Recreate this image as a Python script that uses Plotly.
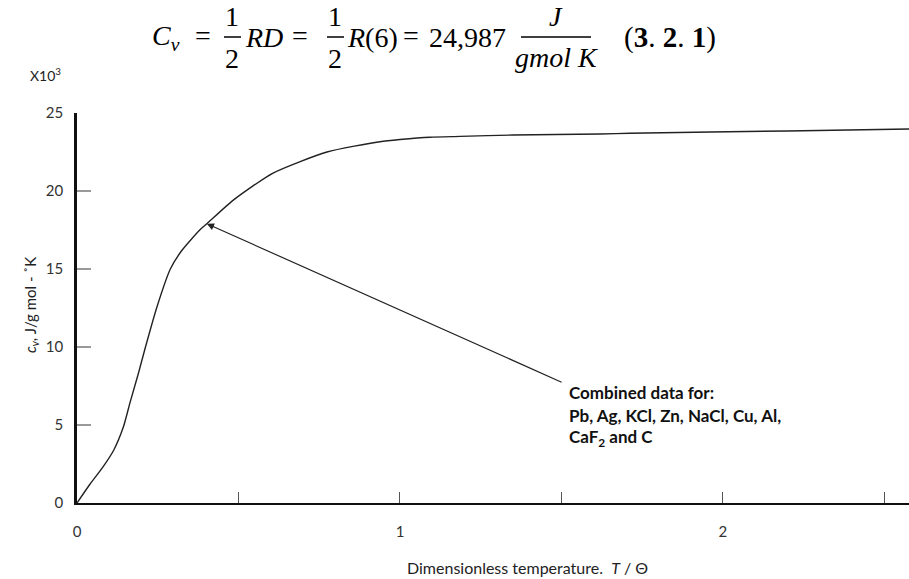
import plotly.graph_objects as go

# ---- data ----
t_ratio = [0, 0.04, 0.08, 0.114, 0.144, 0.165, 0.19, 0.212, 0.248, 0.289, 0.325,
           0.38, 0.402, 0.483, 0.607, 0.774, 0.938, 1.0, 1.093, 1.186, 1.35,
           1.619, 1.712, 2.2, 2.576]
cv_kilo = [0, 1.2, 2.3, 3.4, 4.9, 6.5, 8.3, 10.0, 12.6, 15.0, 16.2,
           17.5, 17.9, 19.4, 21.15, 22.5, 23.16, 23.3, 23.45, 23.5, 23.59,
           23.65, 23.7, 23.85, 23.97]
x_tickvals = [0, 1, 2]
x_ticktext = ["0", "1", "2"]
x_minor_step = 0.5
y_tickvals = [0, 5, 10, 15, 20, 25]
arrow_tip = (0.402, 17.9)
arrow_tail = (1.505, 7.7)
note_lines = ["Combined data for:", "Pb, Ag, KCl, Zn, NaCl, Cu, Al,", "CaF<sub>2</sub> and C"]

W, H = 909, 579
L, R, T, B = 77, 0, 113, 76
PW, PH = W - L - R, H - T - B


def px(x):
    return (x - L) / PW


def py(y):
    return (H - B - y) / PH


FONT = "Lato, Carlito, 'Open Sans', sans-serif"
SERIF = "'Liberation Serif', 'DejaVu Serif', serif"

fig = go.Figure()
fig.add_trace(go.Scatter(x=t_ratio, y=cv_kilo, mode="lines",
                         line=dict(color="#222", width=1.4, shape="spline", smoothing=0.6),
                         hoverinfo="skip", showlegend=False))

fig.update_layout(
    width=W, height=H, autosize=False,
    margin=dict(l=L, r=R, t=T, b=B, pad=0),
    paper_bgcolor="white", plot_bgcolor="white",
    showlegend=False,
    font=dict(family=FONT, size=14, color="#333"),
)
fig.update_xaxes(range=[0, 2.576], showline=True, linecolor="#111", linewidth=2.2, showgrid=False, zeroline=False,
                 ticks="inside", ticklen=11, tickwidth=1.3, tickcolor="#555",
                 tickvals=x_tickvals, ticktext=x_ticktext, ticklabelstandoff=14,
                 minor=dict(ticks="inside", ticklen=11, tickwidth=1.3, tickcolor="#555", dtick=x_minor_step,
                            tick0=0, showgrid=False),
                 tickfont=dict(size=15, color="#333", family=FONT))
fig.update_yaxes(range=[0, 25], showline=True, linecolor="#111", linewidth=2.5, showgrid=False, zeroline=False,
                 ticks="inside", ticklen=14, tickwidth=2, tickcolor="#999",
                 tickvals=y_tickvals, ticklabelstandoff=8,
                 tickfont=dict(size=15, color="#333", family=FONT))

ann = []
# axis titles
ann.append(dict(xref="paper", yref="paper", x=px(527), y=py(567), text="Dimensionless temperature.  <i>T</i> / Θ",
                showarrow=False, font=dict(size=16, color="#222", family=FONT), xanchor="center", yanchor="middle"))
ann.append(dict(xref="paper", yref="paper", x=px(31), y=py(305), text="<i>c<sub>v</sub></i>, J/g mol - ˚K",
                showarrow=False, textangle=-90, font=dict(size=15, color="#222", family=FONT),
                xanchor="center", yanchor="middle"))
ann.append(dict(xref="paper", yref="paper", x=px(45), y=py(75), text="X10<sup>3</sup>",
                showarrow=False, font=dict(size=14, color="#222", family=FONT), xanchor="center", yanchor="middle"))

# note with arrow
ann.append(dict(x=arrow_tip[0], y=arrow_tip[1], xref="x", yref="y", ax=arrow_tail[0], ay=arrow_tail[1],
                axref="x", ayref="y", text="", showarrow=True, arrowhead=2, arrowsize=1.2, arrowwidth=1.2,
                arrowcolor="#222"))
for i, line in enumerate(note_lines):
    ann.append(dict(xref="paper", yref="paper", x=px(567), y=py(392 + 23 * i), text="<b>" + line + "</b>",
                    showarrow=False, font=dict(size=17, color="#111", family=FONT), xanchor="left", yanchor="middle"))

# equation heading
EQ = 28


def t(x, y, s, size=EQ, anchor="left"):
    ann.append(dict(xref="paper", yref="paper", x=px(x), y=py(y), text=s, showarrow=False,
                    font=dict(size=size, color="#000", family=SERIF), xanchor=anchor, yanchor="middle"))


t(150, 37, "<i>C</i><sub><i>v</i></sub>")
t(203, 35, "=", anchor="center")
t(232, 16, "1", anchor="center"); t(232, 58, "2", anchor="center")
t(243, 37, "<i>RD</i>")
t(300, 35, "=", anchor="center")
t(335, 16, "1", anchor="center"); t(335, 58, "2", anchor="center")
t(345, 37, "<i>R</i>(6)")
t(411, 35, "=", anchor="center")
t(427, 37, "24,987")
t(556, 16, "<i>J</i>", anchor="center"); t(556, 57, "<i>gmol K</i>", anchor="center")
t(622, 37, "(<b>3</b>. <b>2</b>. <b>1</b>)", size=29)
fig.update_layout(annotations=ann)

shapes = []
for (x0, x1) in [(224, 241), (327, 344), (521, 591)]:
    shapes.append(dict(type="line", xref="paper", yref="paper", x0=px(x0), x1=px(x1), y0=py(37), y1=py(37),
                       line=dict(color="#000", width=1.5)))
fig.update_layout(shapes=shapes)

fig.write_html("out.html", config={"displayModeBar": False},
               post_script="document.body.style.margin='0';")
